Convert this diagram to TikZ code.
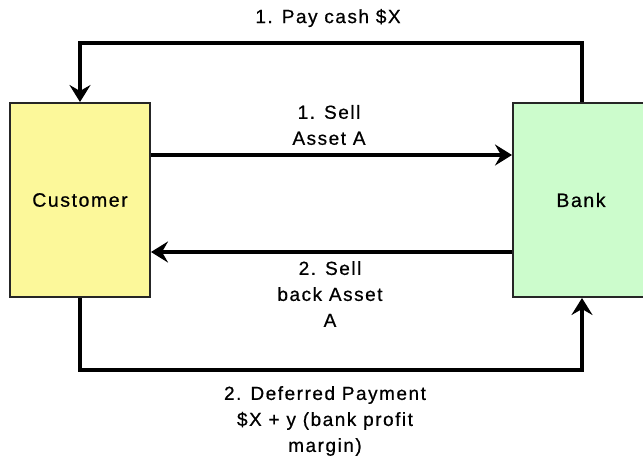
\documentclass[tikz,border=0pt]{standalone}
\usepackage{fontspec}
\setmainfont{Liberation Sans}[LetterSpace=8, FakeBold=0.6]
\usetikzlibrary{arrows.meta}
\definecolor{custyellow}{HTML}{FCF89A}
\definecolor{bankgreen}{HTML}{CCFCCC}
\tikzset{
  party/.style={draw=black!85, line width=2pt, minimum width=140pt, minimum height=194pt, inner sep=0pt, font=\fontsize{19.5}{22}\selectfont},
  flow/.style={line width=4pt, -{Stealth[length=17pt, width=21pt, inset=6pt]}},
  lbl/.style={align=center, font=\fontsize{19}{26}\selectfont, inner sep=0pt}
}
\begin{document}
\begin{tikzpicture}[x=1pt, y=-1pt]
\useasboundingbox (0,0) rectangle (643,464);
\clip (0,0) rectangle (643,464);
\node[party, fill=custyellow] (cust) at (80,200) {Customer};
\node[party, fill=bankgreen, minimum width=160pt, anchor=west] (bank) at (512,200) {};
\node[font=\fontsize{19.5}{22}\selectfont] (banklbl) at (581,200) {Bank};
\coordinate (tl) at (80,43);
\coordinate (tr) at (582,43);
\coordinate (bl) at (80,370);
\coordinate (br) at (582,370);
\draw[flow] (bank.north -| tr) -- (tr) -- (tl) -- (cust.north);
\draw[flow] (cust.east |- 0,155) -- (bank.west |- 0,155);
\draw[flow] (bank.west |- 0,252) -- (cust.east |- 0,252);
\draw[flow] (cust.south) -- (bl) -- (br) -- (bank.south -| br);
\node[lbl] (l1) at (328,18) {1. Pay cash \$X};
\node[lbl] (l2) at (329,125) {1. Sell\\Asset A};
\node[lbl] (l3) at (330,294) {2. Sell\\back Asset\\A};
\node[lbl] (l4) at (325,421) {2. Deferred Payment\\\$X + y (bank profit\\margin)};
\end{tikzpicture}
\end{document}
